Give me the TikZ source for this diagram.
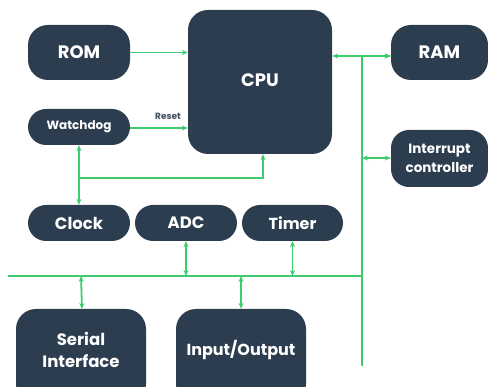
\documentclass[tikz,border=0pt]{standalone}
\usepackage{fontspec}
\setmainfont{Poppins}
\usetikzlibrary{arrows.meta}
\definecolor{navy}{HTML}{2C3D4F}
\definecolor{bus}{HTML}{3DCB6E}
\begin{document}
\begin{tikzpicture}[x=1pt,y=-1pt,
  blk/.style={fill=navy,text=white,font=\bfseries,inner sep=0pt,align=center},
  pill/.style={blk,rounded corners=18pt},
  lbl/.style={text=white,align=center,inner sep=0pt},
  conn/.style={draw=bus,line width=1.8pt},
  tip/.style={-{Stealth[length=6pt,width=5pt]}},
  dtip/.style={{Stealth[length=6pt,width=5pt]}-{Stealth[length=6pt,width=5pt]}}]
\useasboundingbox (0,0) rectangle (488,387);
\node[pill,minimum width=102pt,minimum height=55pt,rounded corners=20pt,font=\bfseries\fontsize{18}{20}\selectfont] (rom) at (79,52.5) {ROM};
\node[pill,minimum width=102pt,minimum height=36pt,font=\bfseries\fontsize{12}{14}\selectfont] (wd) at (79,127) {Watchdog};
\node[blk,rounded corners=20pt,minimum width=144pt,minimum height=144pt] (cpu) at (260,82) {};
\node[lbl,font=\bfseries\fontsize{18}{20}\selectfont] (cpul) at (260,80) {CPU};
\node[pill,minimum width=97pt,minimum height=55pt,rounded corners=20pt,font=\bfseries\fontsize{18}{20}\selectfont] (ram) at (439.5,52.5) {RAM};
\node[pill,minimum width=97pt,minimum height=57pt,rounded corners=18pt,font=\bfseries\fontsize{13.5}{19}\selectfont] (irq) at (439.5,158.5) {Interrupt\\controller};
\node[pill,minimum width=102pt,minimum height=36pt,font=\bfseries\fontsize{16.5}{18}\selectfont] (clk) at (79,223) {Clock};
\node[pill,minimum width=102pt,minimum height=36pt,font=\bfseries\fontsize{16.5}{18}\selectfont] (adc) at (186,223) {ADC};
\node[pill,minimum width=101pt,minimum height=36pt,font=\bfseries\fontsize{16}{18}\selectfont] (tmr) at (292.5,223) {Timer};
\node[blk,rounded corners=20pt,minimum width=130pt,minimum height=95pt] (ser) at (81,356.5) {};
\node[lbl,font=\bfseries\fontsize{16.5}{22}\selectfont] (serl) at (81,350) {Serial\\Interface};
\node[blk,rounded corners=20pt,minimum width=130pt,minimum height=95pt] (io) at (241,356.5) {};
\node[lbl,font=\bfseries\fontsize{16}{18}\selectfont] (iol) at (241,350) {Input/Output};
\node[font=\bfseries\fontsize{9}{10}\selectfont,text=navy!75!gray] (rst) at (168,116) {Reset};
% bus coordinates
\coordinate (vtop) at (362,56);
\coordinate (vbot) at (362,366);
\coordinate (hl) at (8,276);
\coordinate (hr) at (362,276);
\coordinate (j1) at (79,178);
\coordinate (j2) at (263,178);
% connections
\draw[conn,tip] (rom.east) -- (rom.east -| cpu.west);
\draw[conn,tip] (wd.east |- 0,128) -- (cpu.west |- 0,128);
\draw[conn,dtip] (wd.south) -- (clk.north);
\draw[conn,tip] (j1) -- (j2) -- (j2 |- cpu.south);
\draw[conn] (vtop) -- (vbot);
\draw[conn] (hl) -- (hr);
\draw[conn,dtip] (cpu.east |- vtop) -- (ram.west |- vtop);
\draw[conn,tip] (vtop) -- (ram.west |- vtop);
\draw[conn,dtip] (362,158) -- (irq.west |- 0,158);
\draw[conn,dtip] (adc.south) -- (adc.south |- hl);
\draw[conn,dtip] (tmr.south) -- (tmr.south |- hl);
\draw[conn,dtip] (ser.north |- hl) -- (82,309);
\draw[conn,dtip] (io.north |- hl) -- (io.north);
\end{tikzpicture}
\end{document}
